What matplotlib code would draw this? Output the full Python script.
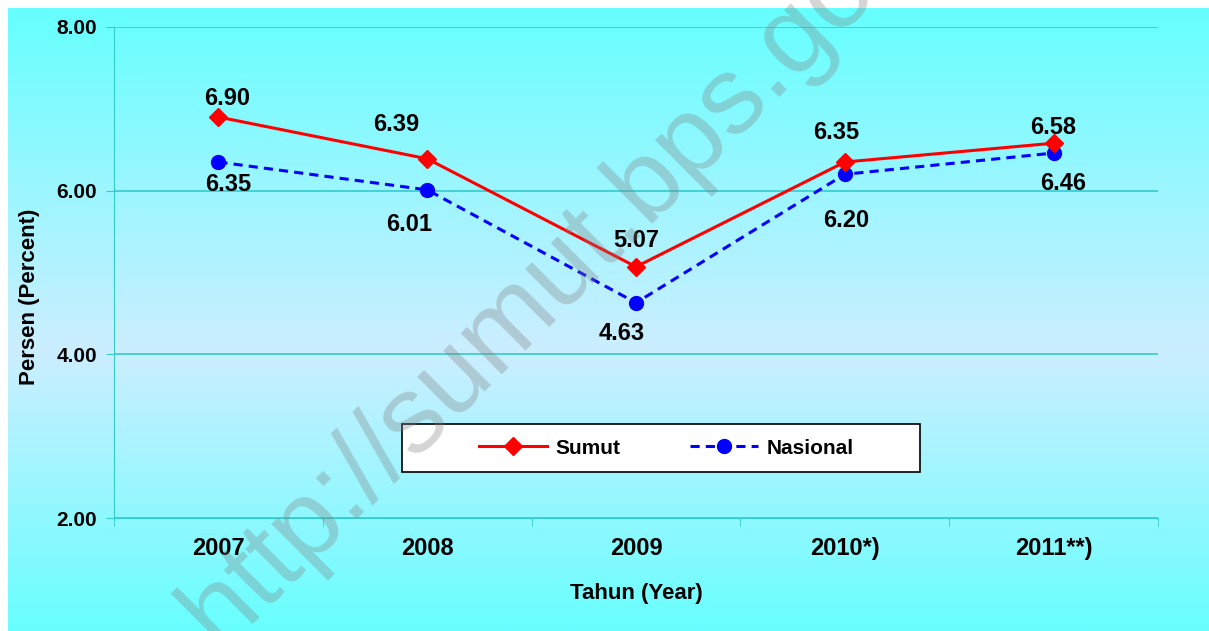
import numpy as np
import matplotlib.pyplot as plt
from matplotlib.colors import LinearSegmentedColormap
from matplotlib.patches import Rectangle

plt.rcParams['font.family'] = ['Liberation Sans', 'DejaVu Sans']
plt.rcParams['font.weight'] = 'bold'
plt.rcParams['axes.labelweight'] = 'bold'

years = ["2007", "2008", "2009", "2010*)", "2011**)"]
sumut = [6.90, 6.39, 5.07, 6.35, 6.58]
nasional = [6.35, 6.01, 4.63, 6.20, 6.46]

# label offsets in points (dx, dy)
sumut_off = [(6, 13), (-22, 25), (0, 19), (-6, 21), (0, 11)]
nas_off = [(7, -16), (-13, -25), (-10, -22), (1, -33), (7, -22)]

W, H = 1209, 631
fig = plt.figure(figsize=(W / 100, H / 100), dpi=100)

# background gradient
bg = fig.add_axes([8 / W, 0, 1 - 8 / W, 1 - 8 / H], zorder=0)
cmap = LinearSegmentedColormap.from_list(
    "bg", [(0, "#66ffff"), (0.55, "#cceeff"), (1, "#68ffff")])
grad = np.linspace(0, 1, 256).reshape(-1, 1)
bg.imshow(grad, aspect="auto", cmap=cmap, extent=[0, 1, 0, 1], origin="upper")
bg.axis("off")

ax = fig.add_axes([114 / W, 1 - 518 / H, (1158 - 114) / W, (518 - 27) / H], zorder=1)
ax.patch.set_alpha(0)

x = np.arange(len(years))
ax.plot(x, sumut, color="#ff0000", lw=2.2, marker="D", ms=9, label="Sumut", zorder=4)
ax.plot(x, nasional, color="#0000ff", lw=2.2, ls=(0, (3, 2)), marker="o", ms=10,
        label="Nasional", zorder=3)

for i in range(len(years)):
    ax.annotate(f"{sumut[i]:.2f}", (x[i], sumut[i]), xytext=sumut_off[i],
                textcoords="offset points", ha="center", va="center", fontsize=17)
    ax.annotate(f"{nasional[i]:.2f}", (x[i], nasional[i]), xytext=nas_off[i],
                textcoords="offset points", ha="center", va="center", fontsize=17)

ax.set_xlim(-0.5, len(years) - 0.5)
ax.set_ylim(2, 8)
ax.set_yticks([2, 4, 6, 8])
ax.set_yticklabels([f"{v:.2f}" for v in [2, 4, 6, 8]], fontsize=15)
ax.set_xticks(x)
ax.set_xticklabels(years, fontsize=17)
ax.set_xticks(np.arange(-0.5, len(years)), minor=True)
ax.tick_params(axis="x", which="major", length=0, pad=14)
ax.tick_params(axis="x", which="minor", length=6, color="#33cccc", direction="out")
ax.tick_params(axis="y", length=6, color="#33cccc", pad=6)
ax.grid(axis="y", color="#33cccc", lw=1.2)
for s in ["top", "right"]:
    ax.spines[s].set_visible(False)
ax.spines["left"].set_color("#33cccc")
ax.spines["bottom"].set_color("#33cccc")

ax.set_ylabel("Persen (Percent)", fontsize=16)
ax.yaxis.set_label_coords(-0.071, 0.45)
ax.set_xlabel("Tahun (Year)", fontsize=16, labelpad=16)

# legend box
bx0, bx1, by0, by1 = (402 - 114) / 1044, (920 - 114) / 1044, (518 - 472) / 491, (518 - 424) / 491
ax.add_patch(Rectangle((bx0, by0), bx1 - bx0, by1 - by0, transform=ax.transAxes,
                       facecolor="white", edgecolor="black", lw=1.2, zorder=5))
leg = ax.legend(loc="center", bbox_to_anchor=(bx0 + 0.005, by0, bx1 - bx0, by1 - by0),
                ncol=2, frameon=False, fontsize=15, handlelength=3.3,
                handletextpad=0.4, columnspacing=3.3, borderaxespad=0)
leg.set_zorder(6)

# watermark
fig.text(0.181, -0.03, "http://sumut.bps.go.id", rotation=45, rotation_mode="anchor",
         fontsize=79, fontweight="normal", color="#808080", alpha=0.33,
         ha="left", va="baseline", zorder=7)

fig.savefig("out.png", dpi=100)
